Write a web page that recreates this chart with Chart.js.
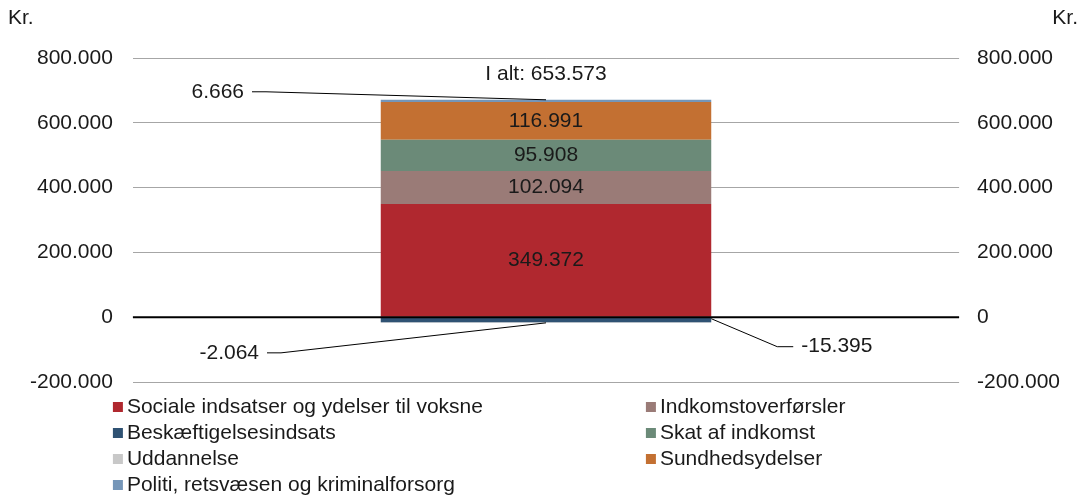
<!DOCTYPE html>
<html>
<head>
<meta charset="utf-8">
<script src="https://cdn.jsdelivr.net/npm/chart.js@4.4.1/dist/chart.umd.min.js"></script>
<style>
  html, body { margin: 0; padding: 0; background: #fff; }
  #wrap { width: 1086px; height: 499px; position: relative; }
</style>
</head>
<body>
<div id="wrap"><canvas id="myChart"></canvas></div>
<script>
// data
const categories = ['I alt'];
const seriesNames = [
  'Sociale indsatser og ydelser til voksne',
  'Indkomstoverførsler',
  'Beskæftigelsesindsats',
  'Skat af indkomst',
  'Uddannelse',
  'Sundhedsydelser',
  'Politi, retsvæsen og kriminalforsorg'
];
const seriesValues = [349372, 102094, -15395, 95908, -2064, 116991, 6666];
const seriesColors = ['#b0282f', '#9a7b77', '#2f5273', '#6b8a78', '#c8c8c8', '#c37032', '#7596b8'];
const yTicks = [-200000, 0, 200000, 400000, 600000, 800000];
const totalValue = 653573;
const unitLabel = 'Kr.';

const FONT = '"Liberation Sans", Arial, sans-serif';
const TXT = '#1a1a1a';

function fmt(v) {
  let s = Math.abs(Math.round(v)).toString().replace(/\B(?=(\d{3})+(?!\d))/g, '.');
  return (v < 0 ? '-' : '') + s;
}

// small segments get an outside label with a leader line
// dx/dy: label offset from anchor, side: where the anchor sits on the bar
const outsideLabels = {
  6: { side: 'top', dx: -302, dy: -8, align: 'right' },
  4: { side: 'bottom', dx: -287, dy: 30, align: 'right' },
  2: { side: 'right', dx: 90, dy: 28, align: 'left' }
};

const labelPlugin = {
  id: 'labels',
  afterDatasetsDraw(chart) {
    const c = chart.ctx;
    const area = chart.chartArea;
    c.save();

    // zero line on top of the bar
    const y0 = chart.scales.y.getPixelForValue(0);
    c.strokeStyle = '#000';
    c.lineWidth = 2;
    c.beginPath();
    c.moveTo(area.left, y0);
    c.lineTo(area.right, y0);
    c.stroke();

    c.font = '21px ' + FONT;
    c.fillStyle = TXT;
    c.textBaseline = 'middle';
    let topY = Infinity, bottomY = -Infinity, barX = 0;
    chart.data.datasets.forEach((ds, i) => {
      const el = chart.getDatasetMeta(i).data[0];
      topY = Math.min(topY, el.y, el.base);
      bottomY = Math.max(bottomY, el.y, el.base);
      barX = el.x;
    });
    chart.data.datasets.forEach((ds, i) => {
      const el = chart.getDatasetMeta(i).data[0];
      const v = ds.data[0];
      const o = outsideLabels[i];
      if (!o) {
        c.textAlign = 'center';
        c.fillText(fmt(v), el.x, (el.y + el.base) / 2);
        return;
      }
      let ax = el.x, ay = el.y;
      if (o.side === 'top') ay = topY;
      if (o.side === 'bottom') ay = bottomY;
      if (o.side === 'right') { ax = el.x + el.width / 2; ay = Math.min(el.y, el.base) + 1; }
      const lx = ax + o.dx, ly = ay + o.dy;
      c.strokeStyle = '#000';
      c.lineWidth = 1;
      c.beginPath();
      if (o.align === 'right') {
        c.moveTo(lx + 8, ly);
        c.lineTo(lx + 22, ly);
        c.lineTo(ax, ay);
        c.stroke();
        c.textAlign = 'right';
        c.fillText(fmt(v), lx, ly);
      } else {
        c.moveTo(ax, ay);
        c.lineTo(lx - 24, ly);
        c.lineTo(lx - 8, ly);
        c.stroke();
        c.textAlign = 'left';
        c.fillText(fmt(v), lx, ly);
      }
    });
    // total
    c.textAlign = 'center';
    c.fillText('I alt: ' + fmt(totalValue), barX, topY - 26);

    // unit labels
    c.textAlign = 'left';
    c.fillText(unitLabel, 8, 18);
    c.textAlign = 'right';
    c.fillText(unitLabel, chart.width - 8, 18);

    // legend, two columns filled row by row
    const colX = [area.left - 20, area.left + 513];
    seriesNames.forEach((name, i) => {
      const col = i % 2, row = Math.floor(i / 2);
      const x = colX[col], y = area.bottom + 25 + row * 26;
      c.fillStyle = seriesColors[i];
      c.fillRect(x, y - 5, 10, 10);
      c.fillStyle = TXT;
      c.textAlign = 'left';
      c.fillText(name, x + 14, y);
    });
    c.restore();
  }
};

const tickOpts = { padding: 20, color: TXT, font: { family: FONT, size: 21 }, callback: v => fmt(v) };

const ctx = document.getElementById('myChart').getContext('2d');
const myChart = new Chart(ctx, {
  type: 'bar',
  data: {
    labels: categories,
    datasets: seriesNames.map((name, i) => ({
      label: name,
      data: [seriesValues[i]],
      backgroundColor: seriesColors[i],
      borderWidth: 0,
      yAxisID: 'y'
    }))
  },
  options: {
    responsive: true,
    maintainAspectRatio: false,
    animation: false,
    layout: { padding: { top: 58, left: 10, right: 8, bottom: 117 } },
    datasets: { bar: { categoryPercentage: 1, barPercentage: 0.4 } },
    plugins: {
      legend: { display: false },
      tooltip: { enabled: false }
    },
    scales: {
      x: { stacked: true, display: false },
      y: {
        stacked: true,
        position: 'left',
        min: yTicks[0],
        max: yTicks[yTicks.length - 1],
        afterBuildTicks: axis => { axis.ticks = yTicks.map(v => ({ value: v })); },
        border: { display: false },
        grid: { drawTicks: false, color: '#a6a6a6', lineWidth: 1 },
        ticks: tickOpts
      },
      y2: {
        position: 'right',
        min: yTicks[0],
        max: yTicks[yTicks.length - 1],
        afterBuildTicks: axis => { axis.ticks = yTicks.map(v => ({ value: v })); },
        border: { display: false },
        grid: { display: false, drawTicks: false },
        ticks: { ...tickOpts, padding: 18 }
      }
    }
  },
  plugins: [labelPlugin]
});
</script>
</body>
</html>
